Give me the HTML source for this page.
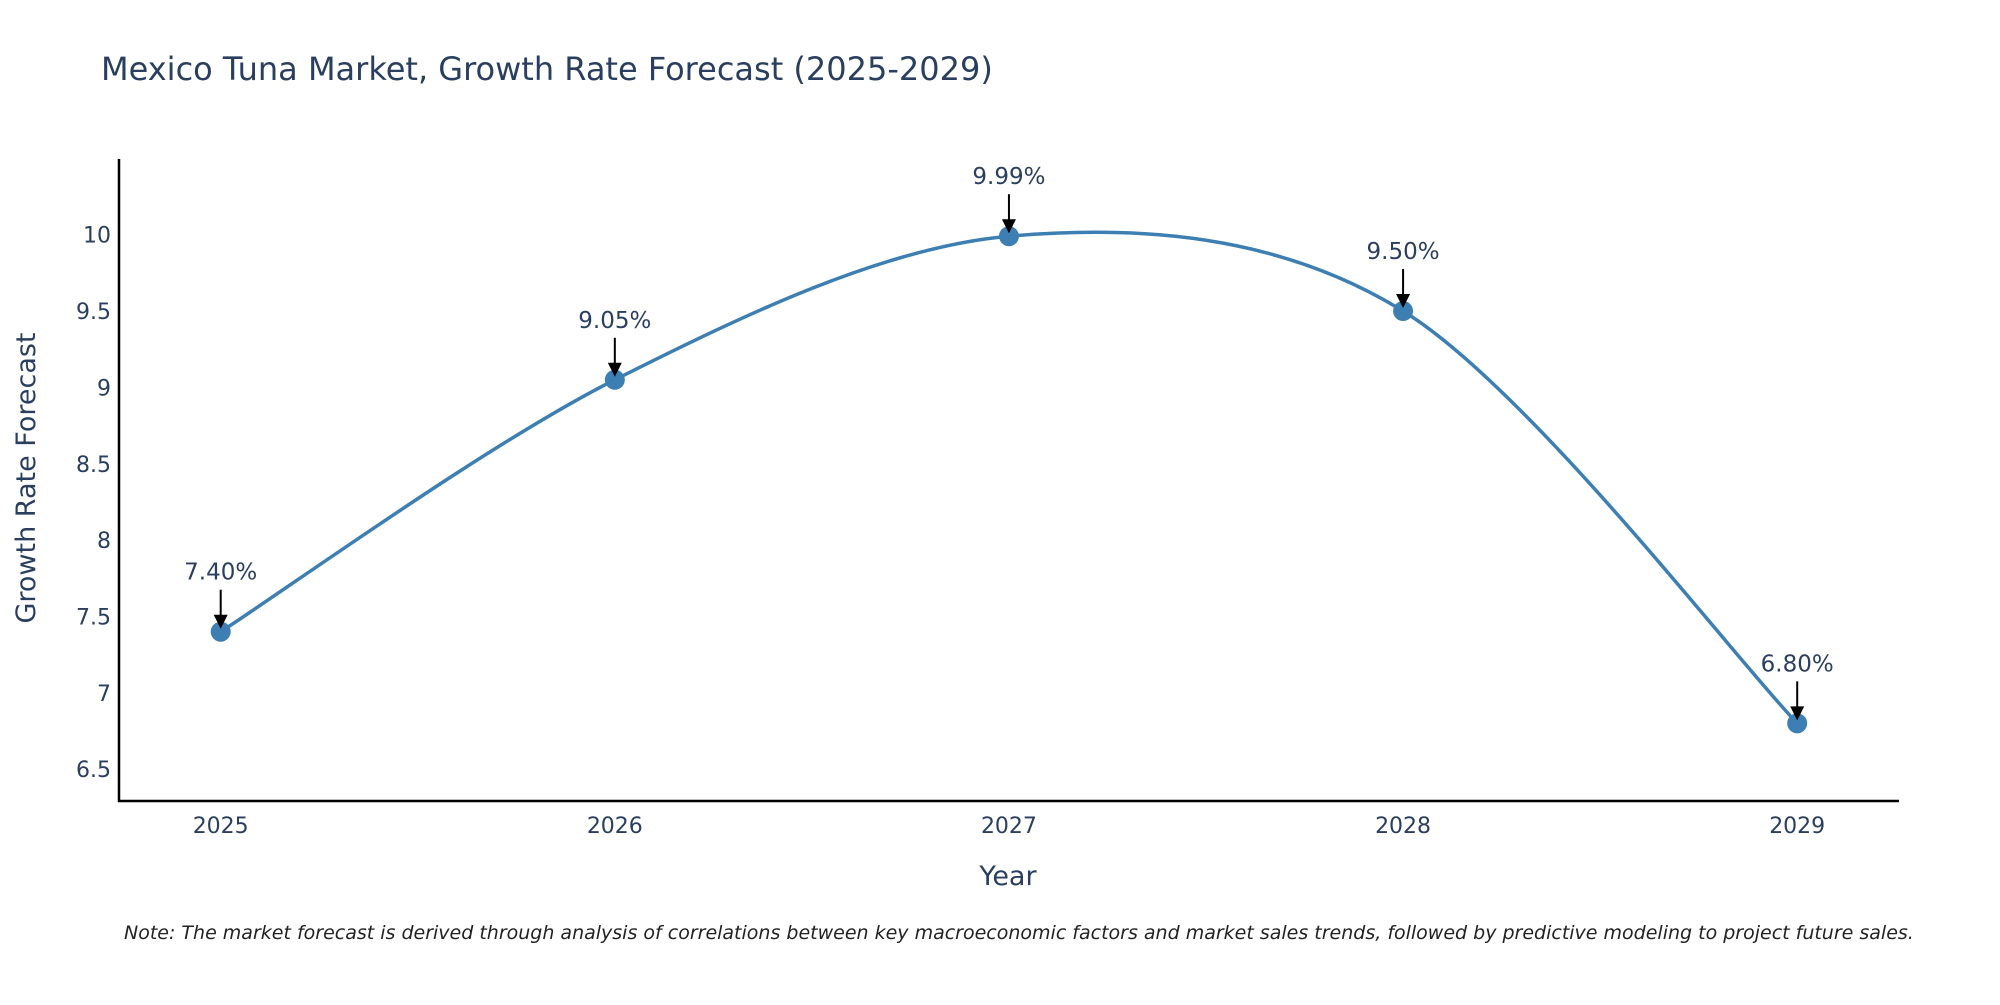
<!DOCTYPE html>
<html><head><meta charset="utf-8"><style>
html,body{margin:0;padding:0;background:#fff;}
svg text{font-family:"DejaVu Sans","Liberation Sans",sans-serif;fill:#2a3f5f;}
</style></head><body>
<svg id="chart" width="2000" height="1000" xmlns="http://www.w3.org/2000/svg">
<text x="101" y="80" font-size="32">Mexico Tuna Market, Growth Rate Forecast (2025-2029)</text>
<g id="yticks"></g>
<g id="xticks"></g>
<line x1="119" y1="159" x2="119" y2="802" stroke="#000" stroke-width="2.5"/>
<line x1="118" y1="801" x2="1899" y2="801" stroke="#000" stroke-width="2.5"/>
<path id="line" fill="none" stroke="#3d7fb2" stroke-width="3.5"/>
<g id="marks"></g>
<text x="1008" y="885" font-size="27" text-anchor="middle">Year</text>
<text x="0" y="0" font-size="27" text-anchor="middle" transform="translate(35,478) rotate(-90)">Growth Rate Forecast</text>
<text x="124" y="939" font-size="19" font-style="italic" style="fill:#222">Note: The market forecast is derived through analysis of correlations between key macroeconomic factors and market sales trends, followed by predictive modeling to project future sales.</text>
</svg>
<script>
const years=[2025,2026,2027,2028,2029];
const values=[7.40,9.05,9.99,9.50,6.80];
const labels=["7.40%","9.05%","9.99%","9.50%","6.80%"];
const yTicks=[6.5,7,7.5,8,8.5,9,9.5,10];
const NS="http://www.w3.org/2000/svg";
const xs=y=>220.7+(y-2025)*(1797.2-220.7)/4;
const ys=v=>234.7+(10-v)*152.7;
function mk(tag,attrs,parent,txt){const e=document.createElementNS(NS,tag);for(const k in attrs)e.setAttribute(k,attrs[k]);if(txt!==undefined)e.textContent=txt;parent.appendChild(e);return e;}
const yt=document.getElementById('yticks');
yTicks.forEach(t=>{const e=mk('text',{x:111,y:ys(t)+8,'font-size':22,'text-anchor':'end'},yt,String(t));

});
const xt=document.getElementById('xticks');
years.forEach(y=>{const e=mk('text',{x:xs(y),y:833,'font-size':22,'text-anchor':'middle'},xt,String(y));

});
const P=years.map((y,i)=>[xs(y),ys(values[i])]);
let d=`M${P[0][0]},${P[0][1]}`;
for(let i=0;i<P.length-1;i++){const p0=P[Math.max(i-1,0)],p1=P[i],p2=P[i+1],p3=P[Math.min(i+2,P.length-1)];
const s=0.16;
const c1=[p1[0]+(p2[0]-p0[0])*s,p1[1]+(p2[1]-p0[1])*s];
const c2=[p2[0]-(p3[0]-p1[0])*s,p2[1]-(p3[1]-p1[1])*s];
d+=` C${c1[0]},${c1[1]} ${c2[0]},${c2[1]} ${p2[0]},${p2[1]}`;}
document.getElementById('line').setAttribute('d',d);
const g=document.getElementById('marks');
P.forEach((p,i)=>{
const c=mk('circle',{cx:p[0],cy:p[1],r:10,fill:'#3d7fb2'},g);


const l=mk('line',{x1:p[0],y1:p[1]-42,x2:p[0],y2:p[1]-14,stroke:'#000','stroke-width':2},g);


const h=mk('polygon',{points:`${p[0]-7},${p[1]-17} ${p[0]+7},${p[1]-17} ${p[0]},${p[1]-3}`,fill:'#000'},g);


const t=mk('text',{x:p[0],y:p[1]-52,'font-size':23,'text-anchor':'middle'},g,labels[i]);


});
</script>
</body></html>
